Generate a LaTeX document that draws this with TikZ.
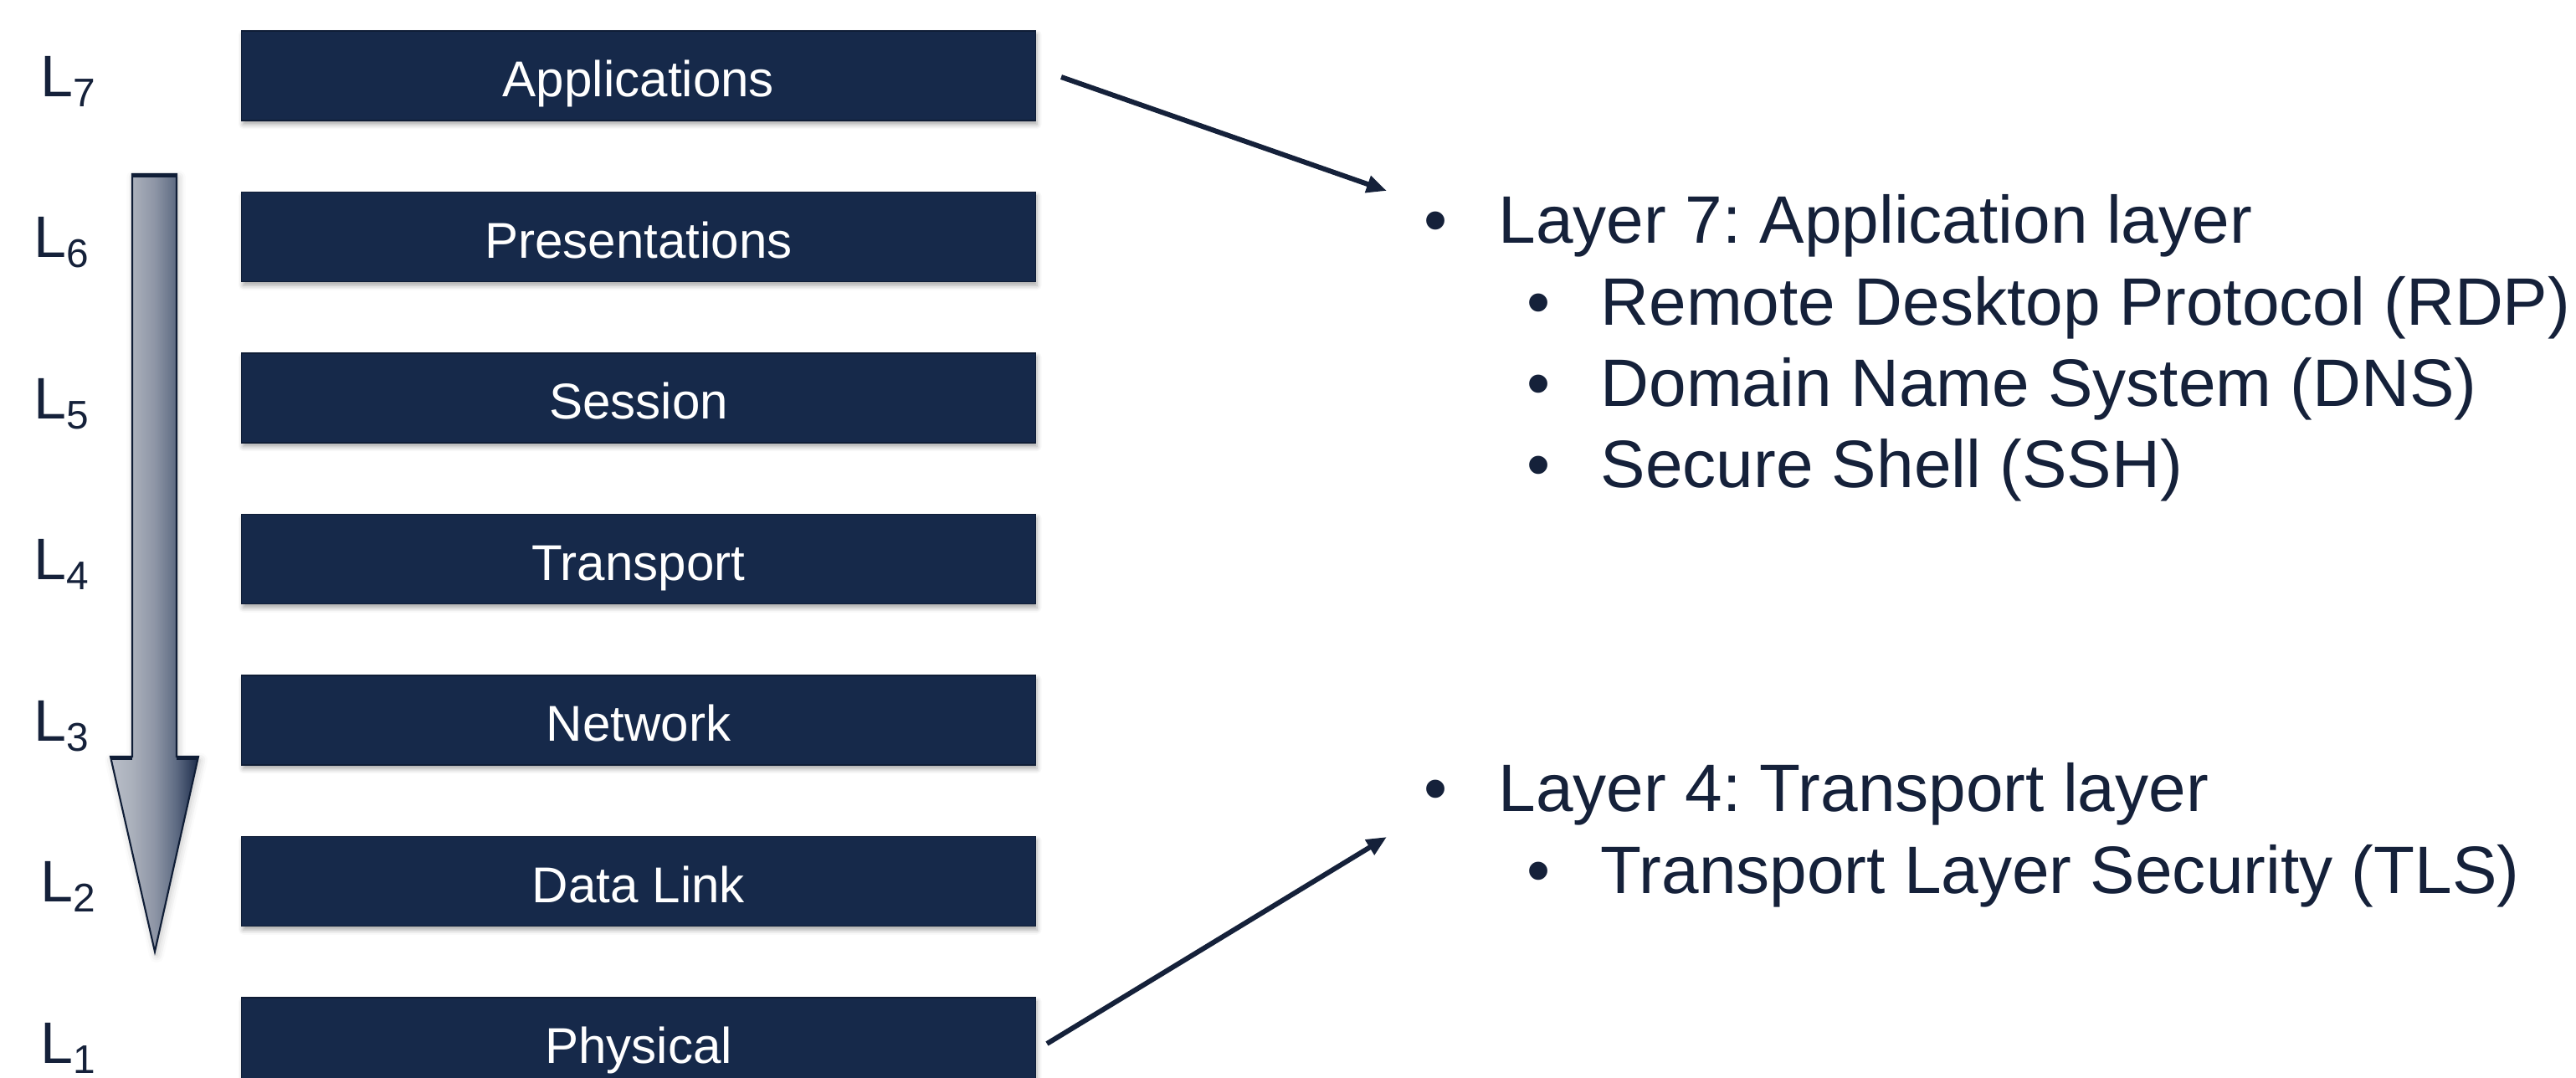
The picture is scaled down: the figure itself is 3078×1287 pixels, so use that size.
\documentclass[tikz,border=0pt]{standalone}
\usepackage{fontspec}
\setmainfont{Liberation Sans}
\usetikzlibrary{arrows.meta,shadows.blur}
\frenchspacing

\definecolor{navy}{HTML}{16294A}
\definecolor{navyedge}{HTML}{0F1D36}
\definecolor{ink}{HTML}{15213A}
\definecolor{flowA}{HTML}{B9BEC8}
\definecolor{flowB}{HTML}{AAB0BB}
\definecolor{flowC}{HTML}{8E96A6}
\definecolor{flowD}{HTML}{5D6A82}
\definecolor{flowE}{HTML}{1B2B4A}

% horizontal shading for the downward flow arrow (stops inside 25bp..75bp)
\pgfdeclarehorizontalshading{layerflow}{100bp}{%
  color(0bp)=(flowA); color(25bp)=(flowA); color(37.5bp)=(flowB);
  color(50bp)=(flowC); color(62.5bp)=(flowD); color(75bp)=(flowE);
  color(100bp)=(flowE)}

% layer tag: an L with a lowered number
\newcommand\laytag[1]{L\raisebox{-0.12cm}{\fontsize{13.6pt}{13.6pt}\selectfont #1}}

\begin{document}
\begin{tikzpicture}[x=0.01cm, y=-0.01cm,
  layerbox/.style={rectangle, fill=navy, draw=navyedge, line width=0.4pt,
    minimum width=9.48cm, minimum height=1.07cm, inner sep=0pt,
    text=white, font=\fontsize{17.1pt}{18pt}\selectfont,
    text height=0.5cm, text depth=0cm,
    blur shadow={shadow xshift=0.5pt, shadow yshift=-1.3pt,
      shadow blur radius=1.6pt, shadow opacity=35}},
  tag/.style={anchor=base west, inner sep=0pt, text=ink,
    font=\fontsize{19.9pt}{20pt}\selectfont},
  item/.style={anchor=base west, inner sep=0pt, text=ink,
    font=\fontsize{22.8pt}{24pt}\selectfont},
  dot/.style={anchor=base, inner sep=0pt, text=ink,
    font=\fontsize{22.8pt}{24pt}\selectfont},
  link/.style={draw=ink, line width=1.7pt,
    -{Triangle[length=0.24cm, width=0.2cm]}}]

\useasboundingbox (0,0) rectangle (3078,1287);
\clip (0,0) rectangle (3078,1287);

% OSI layer stack
\node[layerbox] (app)  at (763,90.5)   {Applications};
\node[layerbox] (pres) at (763,283)    {Presentations};
\node[layerbox] (sess) at (763,475.5)  {Session};
\node[layerbox] (trans) at (763,668)   {Transport};
\node[layerbox] (net)  at (763,860.5)  {Network};
\node[layerbox] (dl)   at (763,1053)   {Data Link};
\node[layerbox] (phys) at (763,1245.5) {Physical};

% layer numbers
\node[tag] (t7) at (48,115)   {\laytag{7}};
\node[tag] (t6) at (40,307.5) {\laytag{6}};
\node[tag] (t5) at (40,500)   {\laytag{5}};
\node[tag] (t4) at (40,692.5) {\laytag{4}};
\node[tag] (t3) at (40,885)   {\laytag{3}};
\node[tag] (t2) at (48,1077.5) {\laytag{2}};
\node[tag] (t1) at (48,1270)  {\laytag{1}};

% downward flow arrow
\path[shading=layerflow, draw=navyedge, line width=0.6pt, line join=miter,
  blur shadow={shadow xshift=0.6pt, shadow yshift=-1.2pt,
    shadow blur radius=2.5pt, shadow opacity=25}]
  (158,208) -- (211,208) -- (211,904) -- (237,904) -- (185,1137)
  -- (132,904) -- (158,904) -- cycle;
\draw[navyedge, line width=1.4pt] (158,210) -- (211,210);
\draw[navyedge, line width=1.2pt] (132.5,905.5) -- (158,905.5)
  (211,905.5) -- (236.5,905.5);

% protocol lists
\node[dot]  (b7)   at (1716,290) {•};
\node[item] (l7)   at (1790,290) {Layer 7: Application layer};
\node[dot]  (b7a)  at (1839,388) {•};
\node[item] (rdp)  at (1912,388) {Remote Desktop Protocol (RDP)};
\node[dot]  (b7b)  at (1839,485) {•};
\node[item] (dns)  at (1912,485) {Domain Name System (DNS)};
\node[dot]  (b7c)  at (1839,582) {•};
\node[item] (ssh)  at (1912,582) {Secure Shell (SSH)};

\node[dot]  (b4)   at (1716,969)  {•};
\node[item] (l4)   at (1790,969)  {Layer 4: Transport layer};
\node[dot]  (b4a)  at (1839,1067) {•};
\node[item] (tls)  at (1912,1067) {Transport Layer Security (TLS)};

% connectors from the stack to the lists
\coordinate (appout)  at ([xshift=0.3cm, yshift=-0.015cm]app.east);
\coordinate (physout) at ([xshift=0.13cm, yshift=-0.015cm]phys.east);
\coordinate (l7in) at (1657,228);
\coordinate (l4in) at (1657,1000);
\draw[link] (appout) -- (l7in);
\draw[link] (physout) -- (l4in);

\end{tikzpicture}
\end{document}
